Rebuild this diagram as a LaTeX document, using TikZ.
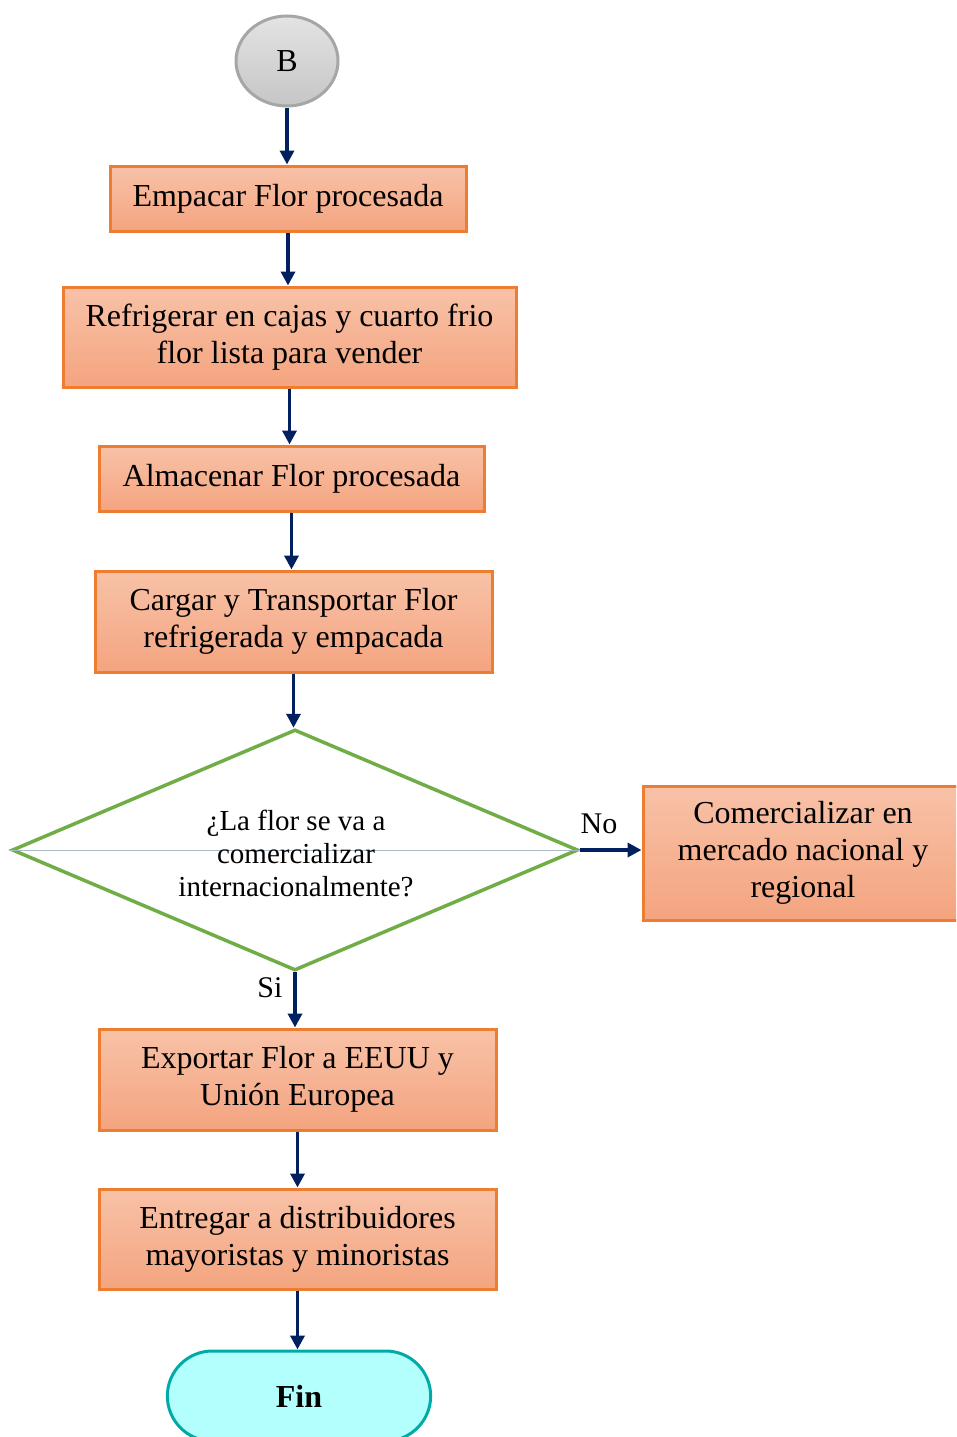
\documentclass[tikz,border=0pt]{standalone}
\usepackage{fontspec}
\setmainfont{Liberation Serif}
\usetikzlibrary{shapes.geometric,shapes.misc,arrows.meta}
\definecolor{borange}{HTML}{ED7D31}
\definecolor{ftop}{HTML}{F8C2A8}
\definecolor{fbot}{HTML}{F4A47F}
\definecolor{navy}{HTML}{002060}
\definecolor{dgreen}{HTML}{70AD47}
\definecolor{teal2}{HTML}{00AAA6}
\definecolor{cyanf}{HTML}{B3FFFD}
\definecolor{gborder}{HTML}{A6A6A6}
\definecolor{midline}{HTML}{A9B9C6}
\begin{document}
\begin{tikzpicture}[x=1pt,y=1pt,
  proc/.style={draw=borange, line width=3pt, top color=ftop, bottom color=fbot,
    rectangle, align=center, inner sep=0pt, font=\fontsize{32}{37}\selectfont},
  conn/.style={draw=navy, line width=3.5pt, -{Triangle[length=14pt,width=14pt]}},
  lbl/.style={font=\fontsize{30}{34}\selectfont, inner sep=0pt}
]
\clip (0,0) rectangle (956,-1437);
\node[ellipse, draw=gborder, line width=3pt, top color=gray!22, bottom color=gray!45,
  minimum width=102pt, minimum height=90pt, font=\fontsize{32}{36}\selectfont] (b) at (287,-61) {B};
\node[proc, minimum width=356pt, minimum height=65pt] (p1) at (288,-198.5) {Empacar Flor procesada};
\node[proc, minimum width=453pt, minimum height=100pt] (p2) at (289.5,-337) {Refrigerar en cajas y cuarto frio\\flor lista para vender};
\node[proc, minimum width=385pt, minimum height=65pt] (p3) at (291.5,-478.5) {Almacenar Flor procesada};
\node[proc, minimum width=397pt, minimum height=101pt] (p4) at (293.5,-621.5) {Cargar y Transportar Flor\\refrigerada y empacada};
\node[diamond, draw=dgreen, line width=3.5pt, fill=white, inner sep=0pt,
  minimum width=566pt, minimum height=241pt] (d) at (295,-850) {};
\draw[midline, line width=1pt] (d.west) -- (d.east);
\node[align=center, inner sep=0pt, font=\fontsize{29}{33}\selectfont] (dt) at (296,-853)
  {¿La flor se va a\\comercializar\\internacionalmente?};
\node[proc, minimum width=320pt, minimum height=134pt] (p5) at (803,-853) {Comercializar en\\mercado nacional y\\regional};
\node[proc, minimum width=397pt, minimum height=101pt] (p6) at (297.5,-1079.5) {Exportar Flor a EEUU y\\Unión Europea};
\node[proc, minimum width=397pt, minimum height=100pt] (p7) at (297.5,-1239) {Entregar a distribuidores\\mayoristas y minoristas};
\node[rounded rectangle, draw=teal2, line width=3pt, fill=cyanf,
  minimum width=270pt, minimum height=90pt, font=\fontsize{32}{37}\selectfont\bfseries] (fin) at (299,-1396) {Fin};

\draw[conn] (b.south) -- (b.south |- p1.north);
\draw[conn] (p1.south) -- (p1.south |- p2.north);
\draw[conn] (p2.south) -- (p2.south |- p3.north);
\draw[conn] (p3.south) -- (p3.south |- p4.north);
\draw[conn] (p4.south) -- (p4.south |- d.north);
\draw[conn] (d.east) -- (d.east -| p5.west);
\draw[conn] (d.south) -- (d.south |- p6.north);
\draw[conn] (p6.south) -- (p6.south |- p7.north);
\draw[conn] (p7.south) -- (p7.south |- fin.north);
\node[lbl] (no) at (599,-824) {No};
\node[lbl] (si) at (270,-988) {Si};
\end{tikzpicture}
\end{document}
